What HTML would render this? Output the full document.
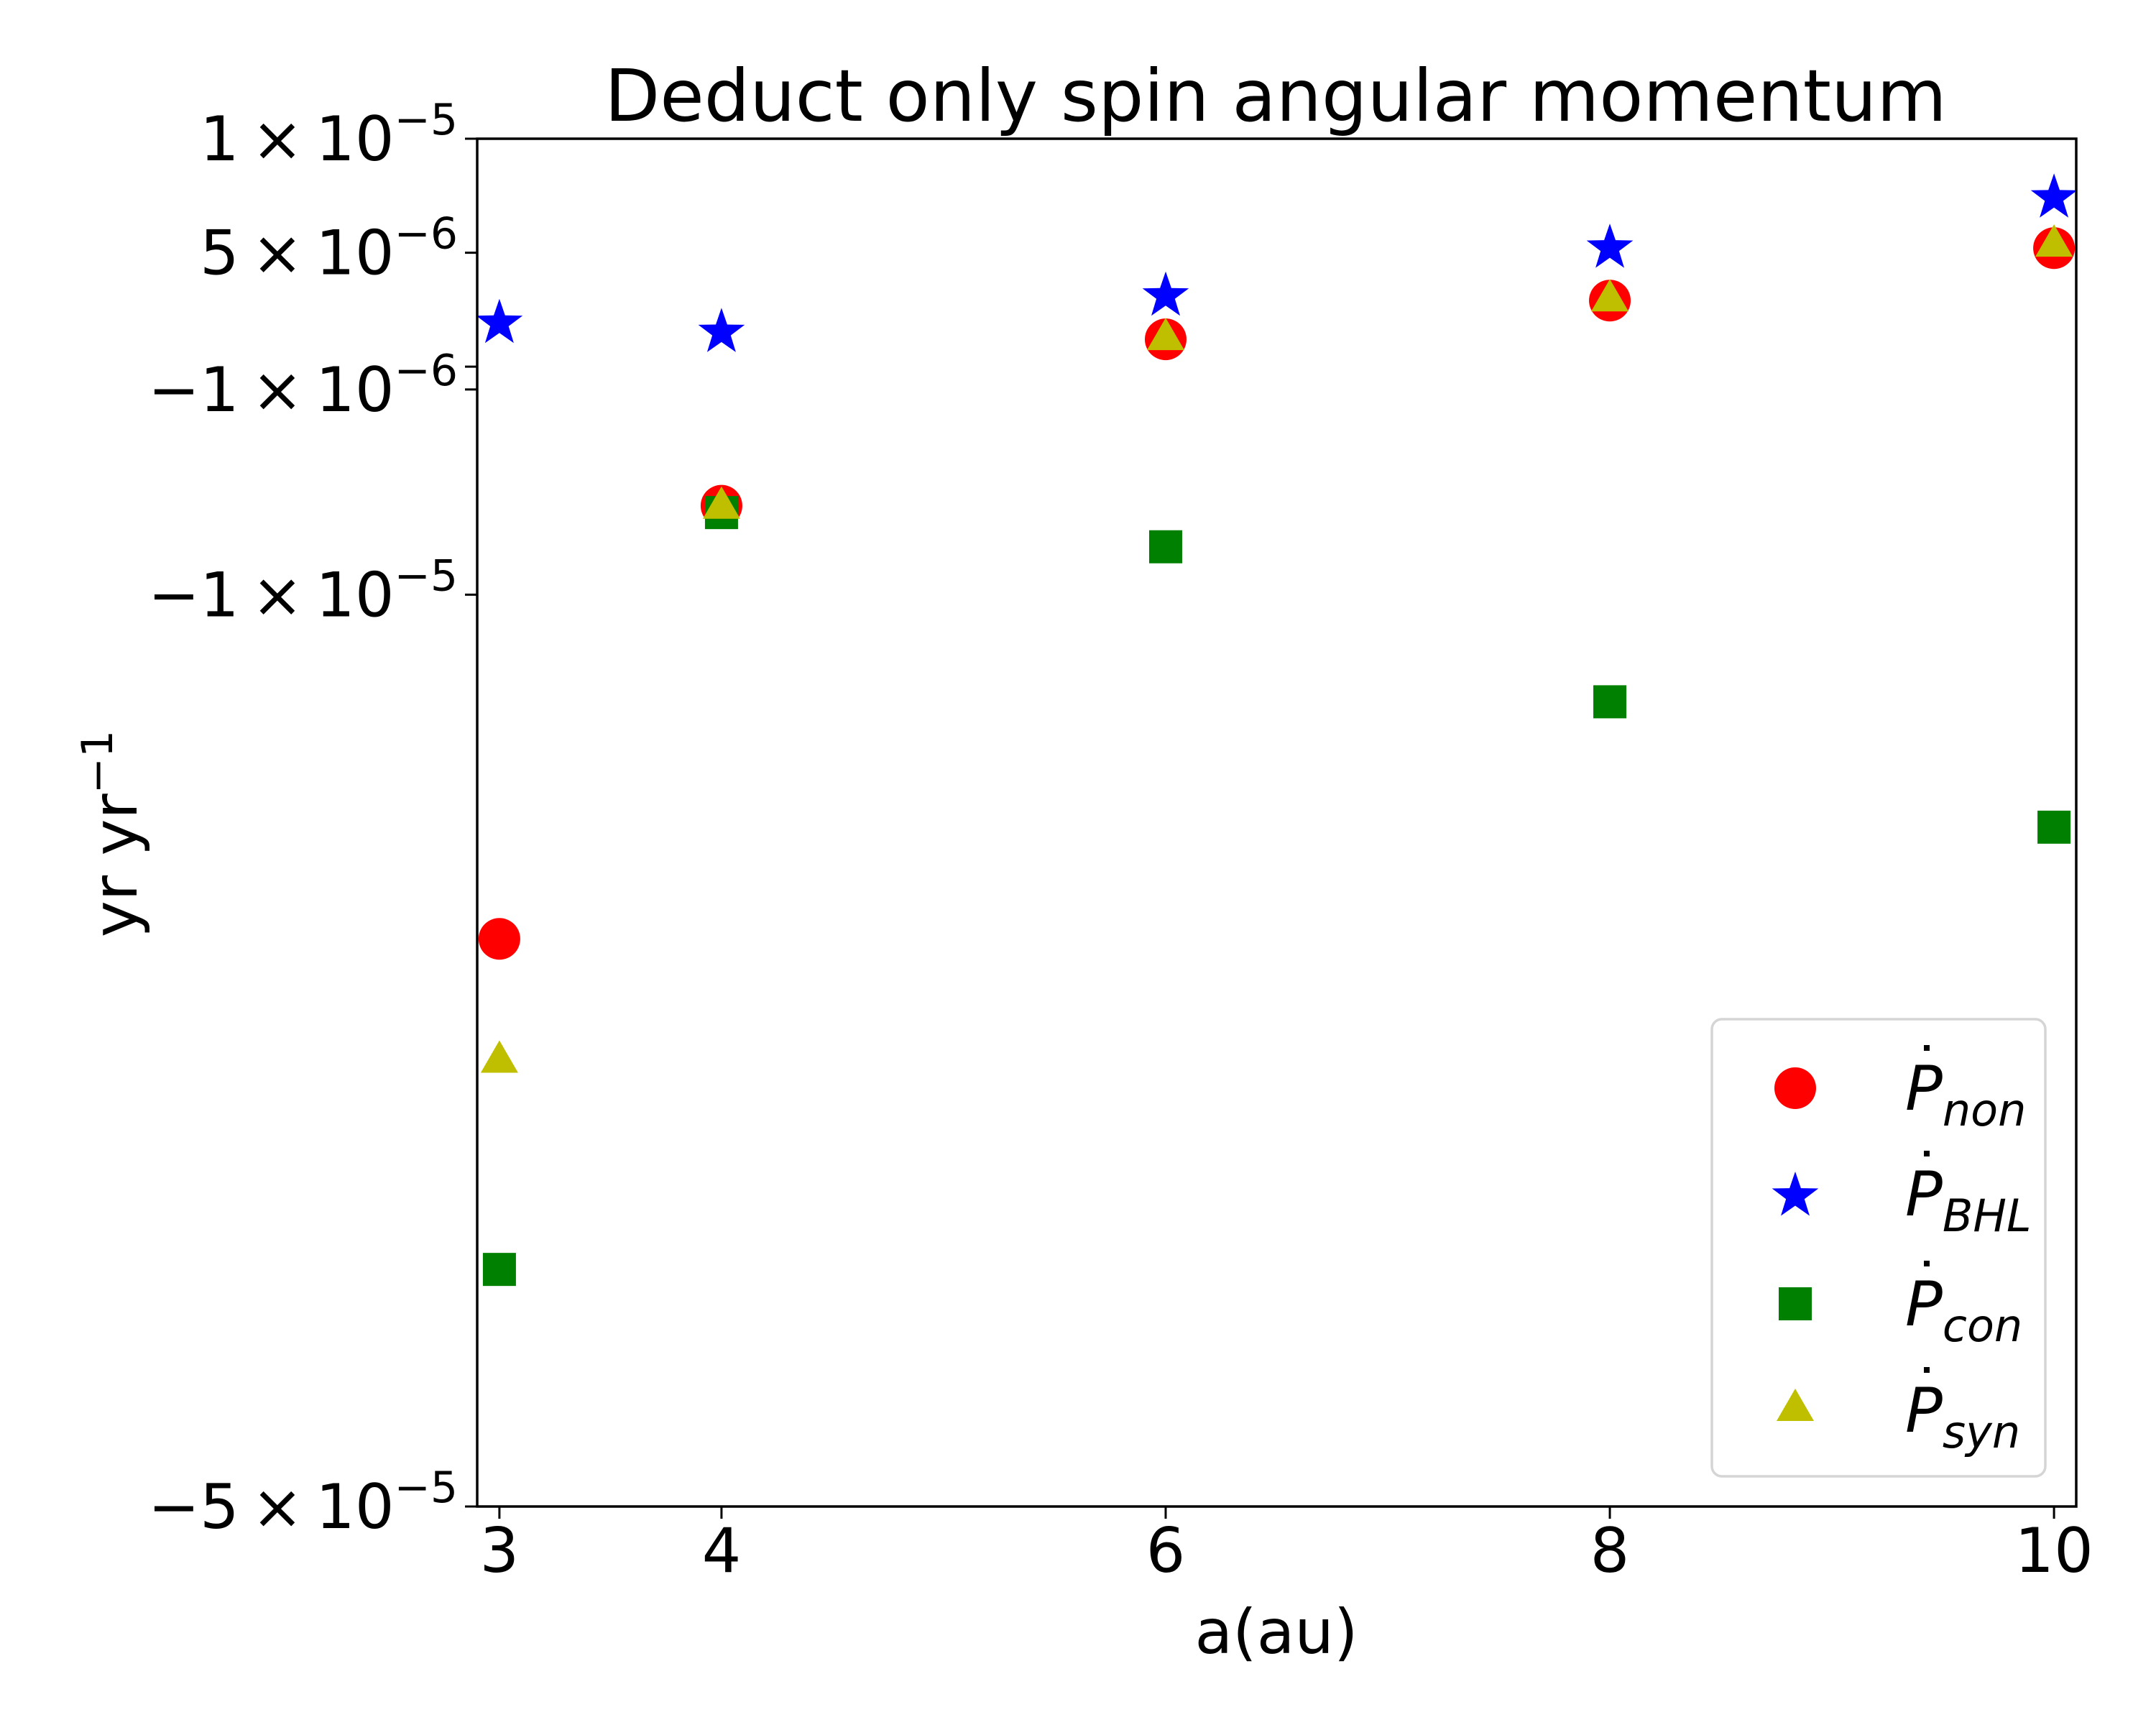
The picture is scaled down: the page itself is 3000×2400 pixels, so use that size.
<!DOCTYPE html>
<html><head><meta charset="utf-8"><style>
html,body{margin:0;padding:0;background:#fff}
svg{display:block}
text{font-family:"DejaVu Sans","Liberation Sans",sans-serif;fill:#000}
</style></head><body>
<svg id="chart" width="3000" height="2400" viewBox="0 0 3000 2400" xmlns="http://www.w3.org/2000/svg">
<rect x="0" y="0" width="3000" height="2400" fill="#fff"/>
<text x="1775" y="168" font-size="100" text-anchor="middle">Deduct only spin angular momentum</text>
<g id="marks"></g>
<rect x="664" y="193" width="2225" height="1903" fill="none" stroke="#000" stroke-width="3.5"/>
<g id="xticks"></g>
<g id="yticks"></g>
<text x="1776" y="2300" font-size="86" text-anchor="middle">a(au)</text>
<text transform="translate(190,1160) rotate(-90)" font-size="86" text-anchor="middle">yr yr<tspan dy="-34" font-size="60">−1</tspan></text>
<g id="legend">
<rect x="2382" y="1418" width="464" height="636" rx="14" fill="#fff" fill-opacity="0.8" stroke="#d5d5d5" stroke-width="3.5"/>
</g>
</svg>
<script>
const xValues = [3, 4, 6, 8, 10];
const pNon = [-25.1, -6.1, 1.2, 2.9, 5.2];
const pBHL = [2.0, 1.6, 3.2, 5.3, 7.5];
const pCon = [-39.6, -6.4, -7.9, -14.7, -20.2];
const pSyn = [-30.5, -6.2, 1.2, 2.9, 5.3];
const xTicks = [3, 4, 6, 8, 10];
const yTicks = [10, 5, 0, -1, -10, -50];
const yTickLabels = [["1","−5"],["5","−6"],null,["−1","−6"],["−1","−5"],["−5","−5"]];
const seriesNames = ["non","BHL","con","syn"];

const NS = "http://www.w3.org/2000/svg";
const X0=664, X1=2889, Y0=193, Y1=2096;
const xMin=2.9, xMax=10.1, yMax=10, yMin=-50; // units of 1e-6
function sx(v){return X0+(v-xMin)/(xMax-xMin)*(X1-X0);}
function sy(v){return Y0+(yMax-v)/(yMax-yMin)*(Y1-Y0);}
function el(tag, attrs, parent){const e=document.createElementNS(NS,tag);for(const k in attrs)e.setAttribute(k,attrs[k]);parent.appendChild(e);return e;}

function circle(g,x,y){return el("circle",{cx:x,cy:y,r:29,fill:"#ff0000"},g);}
function star(g,x,y){const R=34,r=13.5;let p=[];for(let i=0;i<10;i++){const a=-Math.PI/2+i*Math.PI/5;const rr=i%2?r:R;p.push((x+rr*Math.cos(a)).toFixed(1)+","+(y+rr*Math.sin(a)+3).toFixed(1));}return el("polygon",{points:p.join(" "),fill:"#0000ff"},g);}
function square(g,x,y){return el("rect",{x:x-23,y:y-23,width:46,height:46,fill:"#008000"},g);}
function tri(g,x,y){return el("polygon",{points:`${x},${y-30} ${x+26},${y+15} ${x-26},${y+15}`,fill:"#bfbf00"},g);}

const marks=document.getElementById("marks");
const series=[[pNon,circle,"non"],[pBHL,star,"bhl"],[pCon,square,"con"],[pSyn,tri,"syn"]];
series.forEach(([vals,fn,nm])=>{
  vals.forEach((v,i)=>{
    const m=fn(marks,sx(xValues[i]),sy(v));
    
    
  });
});

const xt=document.getElementById("xticks");
xTicks.forEach(t=>{
  const x=sx(t);
  const l=el("line",{x1:x,y1:Y1,x2:x,y2:Y1+17,stroke:"#000","stroke-width":3},xt);
  
  
  const tx=el("text",{x:x,y:2187,"font-size":86,"text-anchor":"middle"},xt);
  tx.textContent=String(t);
  
  
});

const yt=document.getElementById("yticks");
yTicks.forEach((t,i)=>{
  const y=sy(t);
  const l=el("line",{x1:X0-17,y1:y,x2:X0,y2:y,stroke:"#000","stroke-width":3},yt);
  
  
  const lab=yTickLabels[i];
  if(lab){
    const tx=el("text",{x:637,y:y+30,"font-size":86,"text-anchor":"end"},yt);
    
    
    tx.appendChild(document.createTextNode(lab[0]+"\u2009×\u200910"));
    const sp=el("tspan",{dy:-36,"font-size":60},tx);
    sp.textContent=lab[1];
  }
});

const lg=document.getElementById("legend");
const legendRows=[1514,1661,1814,1962];
const legendFns=[circle,star,square,tri];
seriesNames.forEach((nm,i)=>{
  const y=legendRows[i];
  const m=legendFns[i](lg,2498,y);
  
  
  const tx=el("text",{x:2651,y:y+30,"font-size":86,"font-style":"italic"},lg);
  
  
  tx.appendChild(document.createTextNode("P"));
  const sub=el("tspan",{dy:22,"font-size":62},tx);
  sub.textContent=nm;
  const dot=el("rect",{x:2677,y:y-60,width:8,height:8,fill:"#000"},lg);
  
  
});
</script>
</body></html>
